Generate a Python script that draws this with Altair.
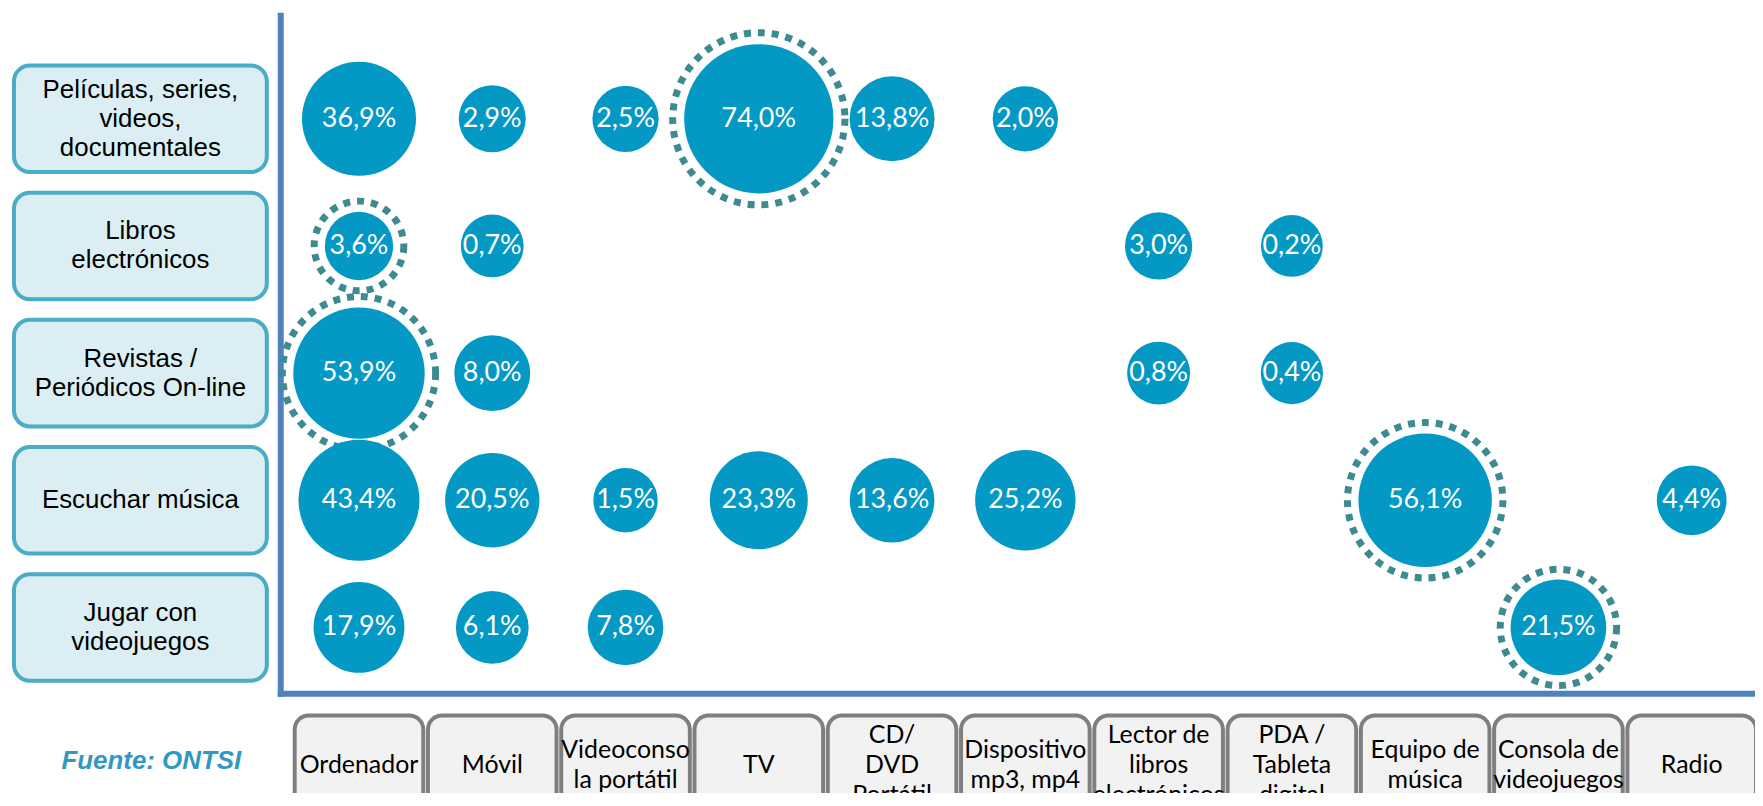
import altair as alt
import pandas as pd

# ---- data -------------------------------------------------------------
activities = [
    "Películas, series,\nvideos,\ndocumentales",
    "Libros\nelectrónicos",
    "Revistas /\nPeriódicos On-line",
    "Escuchar música",
    "Jugar con\nvideojuegos",
]
devices = [
    "Ordenador",
    "Móvil",
    "Videoconso\nla portátil",
    "TV",
    "CD/\nDVD\nPortátil",
    "Dispositivo\nmp3, mp4",
    "Lector de\nlibros\nelectrónicos",
    "PDA /\nTableta\ndigital",
    "Equipo de\nmúsica",
    "Consola de\nvideojuegos",
    "Radio",
]
peliculas = [36.9, 2.9, 2.5, 74.0, 13.8, 2.0, None, None, None, None, None]
libros = [3.6, 0.7, None, None, None, None, 3.0, 0.2, None, None, None]
revistas = [53.9, 8.0, None, None, None, None, 0.8, 0.4, None, None, None]
musica = [43.4, 20.5, 1.5, 23.3, 13.6, 25.2, None, None, 56.1, None, 4.4]
videojuegos = [17.9, 6.1, 7.8, None, None, None, None, None, None, 21.5, None]
source_text = ["Fuente: ONTSI"]

records = []
for act, vals in zip(activities, [peliculas, libros, revistas, musica, videojuegos]):
    for dev, v in zip(devices, vals):
        if v is not None:
            records.append({"actividad": act, "dispositivo": dev, "valor": v})
df = pd.DataFrame(records)
df_rows = pd.DataFrame({"actividad": activities,
                        "n": [a.count("\n") + 1 for a in activities]})
df_cols = pd.DataFrame({"dispositivo": devices,
                        "n": [d.count("\n") + 1 for d in devices]})
df_src = pd.DataFrame({"t": source_text})
df_one = pd.DataFrame({"k": [0]})

# ---- layout -----------------------------------------------------------
W, H = 1481, 684
xscale = alt.Scale(domain=devices, range=[14, 1482], paddingInner=0.035, paddingOuter=0)
yscale = alt.Scale(domain=activities, range=[53, 671], paddingInner=0.162, paddingOuter=0)
X = alt.X("dispositivo:N", scale=xscale, axis=None)
Y = alt.Y("actividad:N", scale=yscale, axis=None)

BUBBLE = "#0399C4"
RING = "#3D8B91"
AXIS = "#4F81BD"

row_boxes = alt.Chart(df_rows).mark_rect(
    cornerRadius=16, fill="#DAEEF3", stroke="#4BACC6", strokeWidth=4
).encode(y=Y, x=alt.value(-268), x2=alt.value(-14))

col_boxes = alt.Chart(df_cols).mark_rect(
    cornerRadius=14, fill="#F2F2F2", stroke="#7F7F7F", strokeWidth=4
).encode(x=X, y=alt.value(706), y2=alt.value(860))

ROW_LH = 29
COL_LH = 30
row_texts = []
col_texts = []
for n in (1, 2, 3):
    row_texts.append(
        alt.Chart(df_rows).transform_filter(alt.datum.n == n).mark_text(
            lineBreak="\n", font="Liberation Sans", fontSize=26, lineHeight=ROW_LH,
            color="black", align="center", baseline="middle", dy=-(n - 1) * ROW_LH / 2
        ).encode(y=Y, x=alt.value(-141), text="actividad:N")
    )
    col_texts.append(
        alt.Chart(df_cols).transform_filter(alt.datum.n == n).mark_text(
            lineBreak="\n", font="Lato", fontSize=25, lineHeight=COL_LH,
            color="black", align="center", baseline="middle", dy=-(n - 1) * COL_LH / 2
        ).encode(x=X, y=alt.value(756), text="dispositivo:N")
    )

vline = alt.Chart(df_one).mark_rule(color=AXIS, strokeWidth=6).encode(
    x=alt.value(0), y=alt.value(0), y2=alt.value(H + 3)
)
hline = alt.Chart(df_one).mark_rule(color=AXIS, strokeWidth=6).encode(
    x=alt.value(-3), x2=alt.value(W), y=alt.value(H)
)

rings = alt.Chart(df).transform_joinaggregate(
    maxv="max(valor)", groupby=["actividad"]
).transform_filter("datum.valor == datum.maxv").mark_point(
    shape="circle", filled=False, stroke=RING, strokeWidth=7,
    strokeDash=[7, 7], opacity=1
).encode(
    x=X, y=Y,
    size=alt.Size("valor:Q", scale=alt.Scale(domain=[0, 74], range=[7000, 29929]), legend=None),
)

bubbles = alt.Chart(df).mark_circle(color=BUBBLE, opacity=1).encode(
    x=X, y=Y,
    size=alt.Size("valor:Q", scale=alt.Scale(domain=[0, 74], range=[3800, 22500]), legend=None),
)

labels = alt.Chart(df).transform_calculate(
    label="replace(format(datum.valor, '.1f'), '.', ',') + '%'"
).mark_text(font="Lato", fontSize=27, color="white", align="center", baseline="middle").encode(
    x=X, y=Y, text="label:N"
)

source = alt.Chart(df_src).mark_text(
    font="Liberation Sans", fontSize=26, fontWeight="bold", fontStyle="italic",
    color="#3298C2", align="center", baseline="middle"
).encode(x=alt.value(-130), y=alt.value(752), text="t:N")

chart = alt.layer(
    row_boxes, col_boxes, *row_texts, *col_texts, vline, hline, rings, bubbles, labels, source
).resolve_scale(size="independent").properties(
    width=W, height=H,
    padding={"left": 274, "top": 3, "right": 0, "bottom": 98},
    autosize=alt.AutoSizeParams(type="none"),
).configure_view(stroke=None)

chart.save("out.html", embed_options={"renderer": "svg", "actions": False})
